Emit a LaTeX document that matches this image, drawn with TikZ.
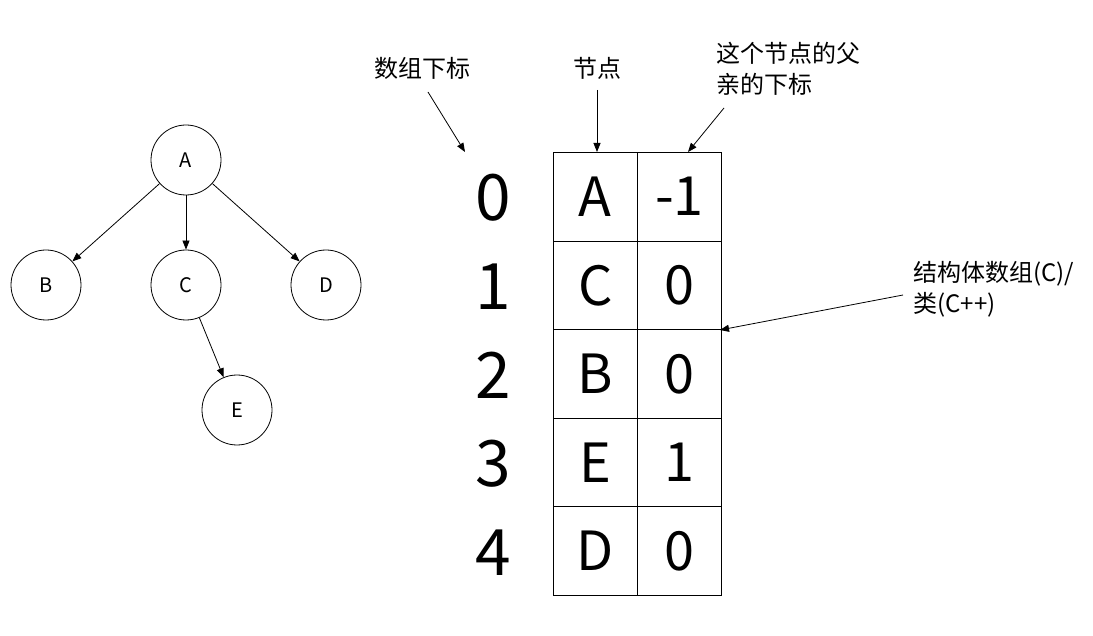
\documentclass[tikz,border=0pt]{standalone}
\usepackage{fontspec}
\setmainfont{Noto Sans CJK SC}
\usetikzlibrary{arrows.meta}
\begin{document}
\begin{tikzpicture}[x=1pt,y=-1pt,
  tnode/.style={draw,circle,minimum size=70pt,inner sep=0pt,font=\fontsize{20}{22}\selectfont},
  cell/.style={draw,minimum width=84pt,minimum height=88.6pt,inner sep=0pt,font=\fontsize{54}{60}\selectfont},
  idx/.style={font=\fontsize{64}{70}\selectfont},
  lbl/.style={font=\fontsize{24}{31}\selectfont,align=left},
  arr/.style={-{Triangle[length=9pt,width=7pt]},line width=0.8pt},
  every node/.append style={line width=0.8pt}]
\useasboundingbox (0,0) rectangle (1093,636);
% tree
\node[tnode] (A) at (186,160) {A};
\node[tnode] (B) at (46,285) {B};
\node[tnode] (C) at (186,285) {C};
\node[tnode] (D) at (326,285) {D};
\node[tnode] (E) at (237,410) {E};
\draw[arr] (A) -- (B);
\draw[arr] (A) -- (C);
\draw[arr] (A) -- (D);
\draw[arr] (C) -- (E);
% table
\foreach \i/\n/\p in {0/A/-1,1/C/0,2/B/0,3/E/1,4/D/0}{
  \node[cell,anchor=north west] (n\i) at (553,{152+88.6*\i}) {\n};
  \node[cell,anchor=north west] (p\i) at (637,{152+88.6*\i}) {\p};
  \node[idx] (i\i) at (493,{152+88.6*\i+46}) {\i};
}
% labels
\node[lbl] (l1) at (422,68) {数组下标};
\coordinate (l1a) at (428,92);
\coordinate (l1b) at (465,152);
\draw[arr] (l1a) -- (l1b);
\node[lbl] (l2) at (597,68) {节点};
\draw[arr] (n0.north -| l2) ++(0,-62) coordinate (l2a) -- (n0.north -| l2);
\node[lbl,anchor=north west,inner sep=0pt] (l3) at (716,42) {这个节点的父\\亲的下标};
\coordinate (l3a) at (724,108);
\coordinate (l3b) at (688,152);
\draw[arr] (l3a) -- (l3b);
\node[lbl,anchor=north west,inner sep=0pt] (l4) at (913,261) {结构体数组(C)/\\类(C++)};
\coordinate (l4a) at (903,295);
\coordinate (l4b) at (720,330);
\draw[arr] (l4a) -- (l4b);
\end{tikzpicture}
\end{document}
